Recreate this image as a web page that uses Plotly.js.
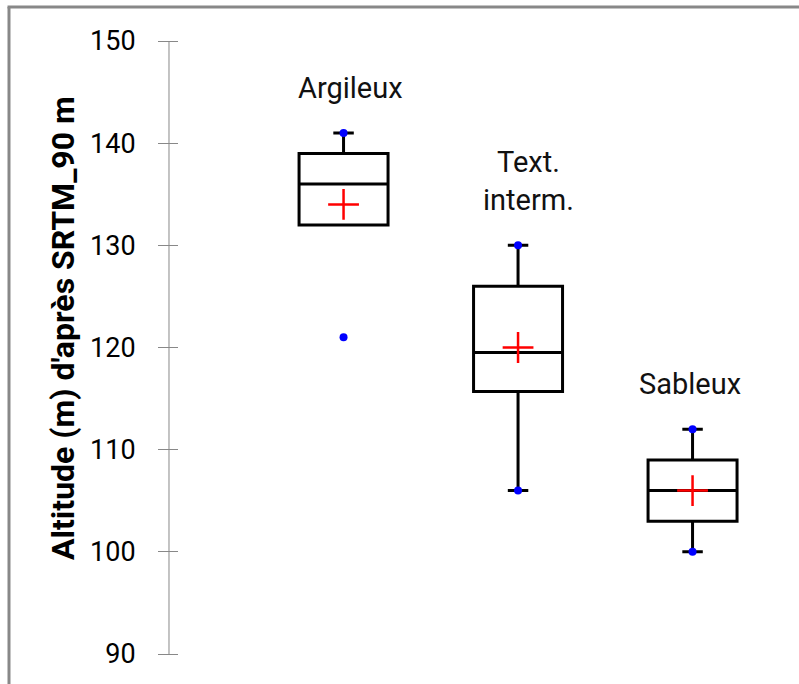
<!DOCTYPE html>
<html>
<head>
<meta charset="utf-8">
<script src="https://cdn.plot.ly/plotly-3.0.1.min.js"></script>
<style>html,body{margin:0;padding:0;background:#fff;}#chart{width:799px;height:684px;}</style>
</head>
<body>
<div id="chart"></div>
<script>
// Data
const categories = ["Argileux", "Text.<br>interm.", "Sableux"];
const minVals     = [121, 106, 100];    // lowest observation (blue dot)
const lowerWhisk  = [132, 106, 100];    // end of lower whisker
const q1Vals      = [132, 115.7, 103];
const medVals     = [136, 119.5, 106];
const q3Vals      = [139, 126, 109];
const upperWhisk  = [141, 130, 112];
const maxVals     = [141, 130, 112];    // highest observation (blue dot)
const meanVals    = [134, 120, 106];
const yTicks      = [90, 100, 110, 120, 130, 140, 150];

// style: small horizontal nudges of the category labels (px)
const labelNudge  = [7, 10, -3];

const FONT = "Roboto, 'DejaVu Sans', sans-serif";
const traces = [];

// Boxes
traces.push({
  type: "box",
  x: categories,
  q1: q1Vals,
  median: medVals,
  q3: q3Vals,
  lowerfence: lowerWhisk,
  upperfence: upperWhisk,
  width: 0.51,
  whiskerwidth: 0.23,
  fillcolor: "rgba(255,255,255,0)",
  line: {color: "#000", width: 3},
  boxpoints: false,
  hoverinfo: "skip",
  showlegend: false
});

// Min / max points (blue dots)
traces.push({
  type: "scatter", mode: "markers",
  x: categories.concat(categories),
  y: minVals.concat(maxVals),
  marker: {color: "#0000ff", size: 8, symbol: "circle"},
  showlegend: false, hoverinfo: "skip"
});

// Means (red crosses)
traces.push({
  type: "scatter", mode: "markers",
  x: categories, y: meanVals,
  marker: {symbol: "cross-thin", size: 22, color: "#ff0000", line: {color: "#ff0000", width: 2.5}},
  showlegend: false, hoverinfo: "skip"
});

const annotations = categories.map((c, i) => ({
  x: c, y: maxVals[i], xref: "x", yref: "y",
  text: c, showarrow: false, yanchor: "bottom", yshift: 26, xshift: labelNudge[i],
  font: {family: FONT, size: 29, color: "#111"},
  align: "center"
}));

// Y axis title (slightly above plot middle as in reference)
annotations.push({
  xref: "paper", yref: "paper", x: -0.187, y: 0.532,
  text: "Altitude (m) d'après SRTM_90 m", textangle: -90, showarrow: false,
  xanchor: "center", yanchor: "middle",
  font: {family: FONT, size: 32, color: "#000", weight: "bold"}
});

const layout = {
  width: 799, height: 684,
  margin: {l: 179, r: 0, t: 41, b: 30},
  paper_bgcolor: "#fff", plot_bgcolor: "#fff",
  showlegend: false,
  xaxis: {
    type: "category", range: [-0.943, 2.61],
    showline: false, showgrid: false, zeroline: false,
    showticklabels: false, ticks: ""
  },
  yaxis: {
    range: [90, 150], tickvals: yTicks,
    showgrid: false, zeroline: false, showline: false,
    ticks: "outside", ticklen: 20, tickcolor: "#888", tickwidth: 1,
    ticklabelstandoff: 17,
    tickfont: {family: FONT, size: 27, color: "#000"}
  },
  annotations: annotations,
  shapes: [
    // y axis line (ticks cross it)
    {type: "line", xref: "paper", yref: "paper", x0: -0.01613, x1: -0.01613, y0: 0, y1: 1, line: {color: "#888", width: 1}},
    // outer frame (left and top)
    {type: "line", xref: "paper", yref: "paper", x0: -0.2742, x1: -0.2742, y0: 1.0555, y1: -0.1, line: {color: "#888", width: 3}},
    {type: "line", xref: "paper", yref: "paper", x0: -0.2766, x1: 1.1, y0: 1.0555, y1: 1.0555, line: {color: "#888", width: 3}}
  ]
};

Plotly.newPlot("chart", traces, layout, {displayModeBar: false, staticPlot: true});
</script>
</body>
</html>
